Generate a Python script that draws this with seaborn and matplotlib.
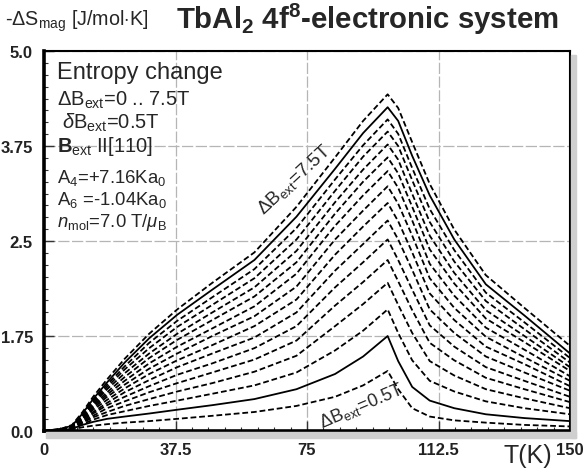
import numpy as np
import pandas as pd
import matplotlib
matplotlib.use("Agg")
import matplotlib.pyplot as plt
import seaborn as sns
from matplotlib.ticker import MultipleLocator, FixedLocator
from matplotlib.patches import Rectangle

# ---------------- data ----------------
T = [0, 5, 8, 11, 14, 18, 23, 30, 38, 48, 60, 72, 83, 91, 98, 101, 105, 110, 117, 126, 137, 150]

S_0_0 = [0.0] * 22
S_0_5 = [0, 0.00, 0.02, 0.05, 0.07, 0.09, 0.11, 0.13, 0.16, 0.20, 0.25, 0.33, 0.45, 0.60, 0.79, 0.55, 0.30, 0.19, 0.14, 0.11, 0.08, 0.06]
S_1_0 = [0, 0.01, 0.03, 0.08, 0.12, 0.16, 0.19, 0.23, 0.28, 0.34, 0.42, 0.55, 0.75, 0.98, 1.25, 0.92, 0.58, 0.40, 0.30, 0.22, 0.17, 0.13]
S_1_5 = [0, 0.01, 0.03, 0.09, 0.15, 0.21, 0.26, 0.33, 0.40, 0.49, 0.60, 0.77, 1.06, 1.32, 1.60, 1.29, 0.93, 0.66, 0.52, 0.39, 0.30, 0.22]
S_2_0 = [0, 0.01, 0.04, 0.11, 0.18, 0.25, 0.33, 0.42, 0.52, 0.63, 0.78, 0.99, 1.38, 1.67, 1.95, 1.66, 1.29, 0.92, 0.73, 0.55, 0.43, 0.30]
S_2_5 = [0, 0.01, 0.04, 0.12, 0.20, 0.30, 0.39, 0.51, 0.63, 0.77, 0.94, 1.19, 1.65, 1.96, 2.25, 1.97, 1.59, 1.16, 0.93, 0.70, 0.55, 0.38]
S_3_0 = [0, 0.01, 0.04, 0.13, 0.23, 0.34, 0.45, 0.59, 0.74, 0.89, 1.09, 1.38, 1.89, 2.22, 2.52, 2.25, 1.86, 1.39, 1.11, 0.84, 0.66, 0.45]
S_3_5 = [0, 0.01, 0.05, 0.15, 0.25, 0.37, 0.51, 0.67, 0.84, 1.02, 1.23, 1.56, 2.11, 2.46, 2.77, 2.52, 2.12, 1.60, 1.29, 0.98, 0.77, 0.53]
S_4_0 = [0, 0.01, 0.05, 0.16, 0.28, 0.41, 0.56, 0.75, 0.93, 1.13, 1.38, 1.73, 2.32, 2.69, 3.00, 2.76, 2.35, 1.81, 1.46, 1.11, 0.88, 0.59]
S_4_5 = [0, 0.02, 0.05, 0.17, 0.30, 0.45, 0.61, 0.82, 1.02, 1.25, 1.51, 1.90, 2.52, 2.90, 3.22, 2.99, 2.57, 2.01, 1.62, 1.24, 0.97, 0.66]
S_5_0 = [0, 0.02, 0.06, 0.18, 0.32, 0.48, 0.66, 0.89, 1.11, 1.35, 1.64, 2.07, 2.70, 3.10, 3.42, 3.20, 2.77, 2.20, 1.78, 1.36, 1.07, 0.72]
S_5_5 = [0, 0.02, 0.06, 0.19, 0.34, 0.51, 0.71, 0.96, 1.20, 1.46, 1.77, 2.22, 2.86, 3.28, 3.60, 3.39, 2.95, 2.39, 1.94, 1.48, 1.17, 0.79]
S_6_0 = [0, 0.02, 0.06, 0.20, 0.36, 0.55, 0.76, 1.02, 1.28, 1.56, 1.89, 2.37, 3.01, 3.44, 3.77, 3.57, 3.12, 2.57, 2.08, 1.59, 1.25, 0.84]
S_6_5 = [0, 0.02, 0.06, 0.21, 0.38, 0.58, 0.81, 1.09, 1.37, 1.66, 2.01, 2.52, 3.16, 3.61, 3.94, 3.75, 3.30, 2.75, 2.23, 1.71, 1.34, 0.90]
S_7_0 = [0, 0.02, 0.07, 0.22, 0.40, 0.61, 0.85, 1.16, 1.45, 1.76, 2.13, 2.67, 3.31, 3.76, 4.10, 3.91, 3.46, 2.92, 2.38, 1.82, 1.43, 0.96]
S_7_5 = [0, 0.03, 0.07, 0.23, 0.42, 0.64, 0.90, 1.22, 1.53, 1.86, 2.25, 2.82, 3.45, 3.92, 4.26, 4.08, 3.62, 3.10, 2.52, 1.93, 1.52, 1.02]
S_8_0 = [0, 0.03, 0.08, 0.25, 0.45, 0.68, 0.95, 1.28, 1.60, 1.95, 2.35, 2.95, 3.60, 4.08, 4.43, 4.25, 3.80, 3.25, 2.65, 2.05, 1.62, 1.12]

fields = [0.0, 0.5, 1.0, 1.5, 2.0, 2.5, 3.0, 3.5, 4.0, 4.5, 5.0, 5.5, 6.0, 6.5, 7.0, 7.5, 8.0]
series = [S_0_0, S_0_5, S_1_0, S_1_5, S_2_0, S_2_5, S_3_0, S_3_5, S_4_0, S_4_5,
          S_5_0, S_5_5, S_6_0, S_6_5, S_7_0, S_7_5, S_8_0]
solid_fields = [1.0, 7.5]

x_ticks = [0, 37.5, 75, 112.5, 150]
x_ticklabels = ["0", "37.5", "75", "112.5", "150"]
y_ticks = [0, 1.25, 2.5, 3.75, 5.0]
y_ticklabels = ["0.0", "1.75", "2.5", "3.75", "5.0"]

rows = []
for b, s in zip(fields, series):
    kind = "solid" if b in solid_fields else "dashed"
    for t, v in zip(T, s):
        rows.append({"T": t, "S": v, "B": b, "kind": kind})
df = pd.DataFrame(rows)

# ---------------- style ----------------
sns.set_theme(style="white")
plt.rcParams["font.family"] = ["Liberation Sans", "DejaVu Sans"]
plt.rcParams["mathtext.fontset"] = "custom"
plt.rcParams["mathtext.rm"] = "Liberation Sans"
plt.rcParams["mathtext.it"] = "Liberation Sans:italic"
plt.rcParams["mathtext.bf"] = "Liberation Sans:bold"

fig = plt.figure(figsize=(5.84, 4.77), dpi=100)
ax = fig.add_axes([44 / 584, 1 - 432 / 477, (570 - 44) / 584, (432 - 52) / 477])

# grey shadow under / right of the frame
fig.patches.append(Rectangle((46 / 584, 1 - 439 / 477), (576 - 46) / 584, 6 / 477,
                             transform=fig.transFigure, color="#cfcfcf", zorder=0))
fig.patches.append(Rectangle((571 / 584, 1 - 439 / 477), 5 / 584, (439 - 56) / 477,
                             transform=fig.transFigure, color="#cfcfcf", zorder=0))

# grid
for gx in x_ticks[1:-1]:
    ax.axvline(gx, color="#b5b5b5", lw=0.9, ls=(0, (9, 2)), zorder=0)
for gy in y_ticks[1:]:
    ax.axhline(gy, color="#b5b5b5", lw=0.9, ls=(0, (9, 2)), zorder=0)

sns.lineplot(data=df, x="T", y="S", units="B", estimator=None, style="kind",
             dashes={"solid": "", "dashed": (3.2, 1.6)}, color="black",
             lw=1.3, legend=False, sort=False, ax=ax, zorder=3)

ax.set_xlim(0, 150)
ax.set_ylim(0, 5)
ax.set_xlabel("")
ax.set_ylabel("")
ax.xaxis.set_major_locator(FixedLocator(x_ticks))
ax.yaxis.set_major_locator(FixedLocator(y_ticks))
ax.set_xticklabels(x_ticklabels)
ax.set_yticklabels(y_ticklabels)
ax.xaxis.set_minor_locator(MultipleLocator(37.5 / 8))
ax.yaxis.set_minor_locator(MultipleLocator(1.25 / 8))
ax.tick_params(which="major", direction="in", length=7, width=1, color="#333333",
               labelsize=12, pad=8)
ax.tick_params(which="minor", direction="in", length=3, width=0.8, color="#333333")
ax.tick_params(axis="y", which="both", left=True, right=False)
ax.tick_params(axis="x", which="both", bottom=True, top=False)
for lab in ax.get_xticklabels() + ax.get_yticklabels():
    lab.set_fontweight("bold")
    lab.set_color("#222222")

for side, lw in [("left", 2.6), ("bottom", 2.6), ("top", 1.5), ("right", 1.5)]:
    ax.spines[side].set_visible(True)
    ax.spines[side].set_linewidth(lw)
    ax.spines[side].set_color("black")
ax.set_facecolor("white")

# figure texts
fig.text(5 / 584, 1 - 21 / 477, r"-$\Delta$S$_{\rm mag}$ [J/mol$\cdot$K]",
         fontsize=14.2, ha="left", va="center")
fig.text(176 / 584, 1 - 19 / 477, r"TbAl$_{\bf 2}$ 4f$^{\bf 8}$-electronic system",
         fontsize=21.2, fontweight="bold", ha="left", va="center")
fig.text(528 / 584, 1 - 456 / 477, "T(K)", fontsize=18, ha="center", va="center")

# inside box texts
ax.text(3.8, 4.72, "Entropy change", fontsize=17, ha="left", va="center")
ax.text(3.8, 4.37, r"$\Delta$B$_{\rm ext}$=0 .. 7.5T", fontsize=14.5, ha="left", va="center")
ax.text(5.2, 4.07, r"$\delta$B$_{\rm ext}$=0.5T", fontsize=14.5, ha="left", va="center")
ax.text(3.8, 3.76, r"$\bf{B}$$_{\rm ext}$ II[110]", fontsize=14.5, ha="left", va="center")
ax.text(3.8, 3.34, r"A$_{4}$=+7.16Ka$_{0}$", fontsize=13.3, ha="left", va="center")
ax.text(3.8, 3.05, r"A$_{6}$ =-1.04Ka$_{0}$", fontsize=13.3, ha="left", va="center")
ax.text(3.8, 2.76, r"$n$$_{\rm mol}$=7.0 T/$\mu$$_{\rm B}$", fontsize=13.3, ha="left", va="center")

# curve labels
ax.text(71.5, 3.32, r"$\Delta$B$_{\rm ext}$=7.5T", fontsize=13.5, rotation=43,
        ha="center", va="center", rotation_mode="anchor")
ax.text(90.5, 0.34, r"$\Delta$B$_{\rm ext}$=0.5T", fontsize=13, rotation=23,
        ha="center", va="center", rotation_mode="anchor")

fig.savefig("out.png", dpi=100)
